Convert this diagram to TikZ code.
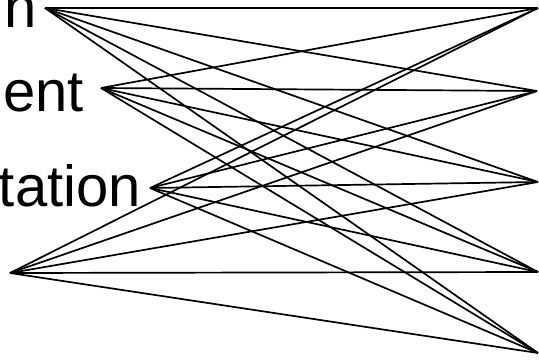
\documentclass[tikz,border=0pt]{standalone}
\usepackage{fontspec}
\setmainfont{Liberation Sans}
\begin{document}
\begin{tikzpicture}[x=1pt,y=-1pt,
  lbl/.style={inner sep=0pt,anchor=base east,font=\fontsize{58}{66}\selectfont},
  link/.style={line width=1.7pt,black}]
\useasboundingbox (0,0) rectangle (539,361);
\node[lbl] (t1) at (37,28) {n};
\node[lbl] (t2) at (84,112) {ent};
\node[lbl] (t3) at (141,206) {tation};
\coordinate (l1) at (45,8);
\coordinate (l2) at (101,88);
\coordinate (l3) at (150,188);
\coordinate (l4) at (10,273);
\coordinate (r1) at (538,8);
\coordinate (r2) at (537,91);
\coordinate (r3) at (538,182);
\coordinate (r4) at (538,272);
\coordinate (r5) at (538,353);
\foreach \a in {l1,l2,l3,l4}{
  \foreach \b in {r1,r2,r3,r4,r5}{
    \draw[link] (\a) -- (\b);
  }
}
\end{tikzpicture}
\end{document}
